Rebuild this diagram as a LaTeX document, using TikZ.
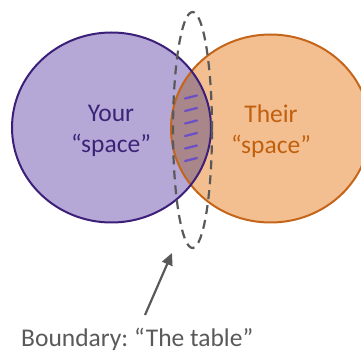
\documentclass[tikz,border=0pt]{standalone}
\usepackage{fontspec}
\setmainfont{Carlito}
\frenchspacing
\usetikzlibrary{arrows.meta,shapes.geometric}
\definecolor{lfill}{HTML}{B5A8D6}
\definecolor{ldraw}{HTML}{3B1F78}
\definecolor{rfill}{HTML}{F3BF90}
\definecolor{rdraw}{HTML}{C4651A}
\definecolor{ofill}{HTML}{A9868A}
\definecolor{hatch}{HTML}{6A4FC8}
\definecolor{gry}{HTML}{595959}
\definecolor{ltext}{HTML}{3B2378}
\definecolor{rtext}{HTML}{C0600F}
\tikzset{
  lbl/.style={font=\fontsize{25.5}{31}\selectfont, align=center, inner sep=0pt},
  hatchline/.style={hatch, line width=2.2pt, line cap=round},
}
\begin{document}
\begin{tikzpicture}[x=1pt,y=-1pt]
\useasboundingbox (0,0) rectangle (361,352);
% fills
\fill[lfill] (111.5,127.5) ellipse [x radius=99.5, y radius=95];
\fill[rfill] (270.5,128.5) ellipse [x radius=99.5, y radius=94];
\begin{scope}
  \clip (111.5,127.5) ellipse [x radius=99.5, y radius=95];
  \fill[ofill] (270.5,128.5) ellipse [x radius=99.5, y radius=94];
\end{scope}
% borders
\draw[rdraw, line width=2pt] (270.5,128.5) ellipse [x radius=99.5, y radius=94];
\draw[ldraw, line width=2pt] (111.5,127.5) ellipse [x radius=99.5, y radius=95];
% hatching
\foreach \yy in {97,109.5,122,134.5,147,159.5}{
  \draw[hatchline] (185,\yy+1.5) -- (197,\yy-1.5);
}
% dashed boundary
\node[draw=gry, dash pattern=on 9pt off 6pt, line width=2.2pt, ellipse, minimum width=39pt, minimum height=236pt, inner sep=0pt] (bnd) at (192.5,130) {};
% labels
\node[lbl, text=ltext] (your) at (111,131) {Your\\“space”};
\node[lbl, text=rtext] (their) at (271,131) {Their\\“space”};
\node[font=\fontsize{25.5}{30}\selectfont, text=gry, inner sep=0pt, anchor=base west] (cap) at (21,346.5) {Boundary: “The table”};
\coordinate (tail) at (145,315);
\coordinate (tip) at (172,253);
\draw[gry, line width=2.2pt, -{Triangle[length=12pt,width=11pt]}] (tail) -- (tip);
\end{tikzpicture}
\end{document}
